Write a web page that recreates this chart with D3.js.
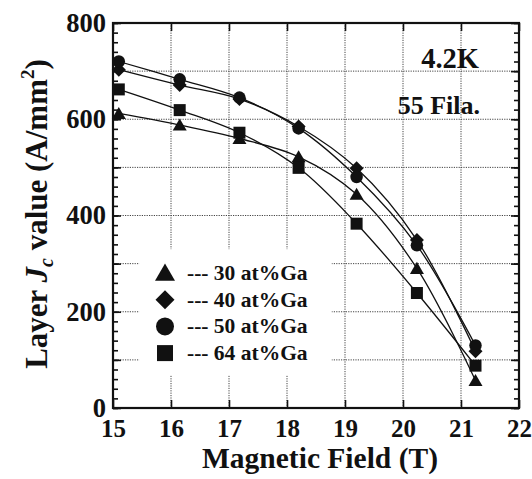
<!DOCTYPE html>
<html><head><meta charset="utf-8">
<script src="https://cdn.jsdelivr.net/npm/d3@7"></script>
<style>
html,body{margin:0;padding:0;background:#fff;}
svg{display:block;}
text{font-family:"Liberation Serif","Times New Roman",serif;font-weight:bold;fill:#111;}
</style></head>
<body><div id="chart"></div>
<script>
const fields = [15.1, 16.15, 17.18, 18.2, 19.2, 20.24, 21.25];
const ga30 = [612, 588, 560, 522, 444, 290, 57];
const ga40 = [703, 671, 642, 585, 498, 349, 118];
const ga50 = [720, 683, 645, 581, 480, 338, 130];
const ga64 = [662, 619, 572, 499, 383, 239, 88];
const seriesNames = ["--- 30 at%Ga", "--- 40 at%Ga", "--- 50 at%Ga", "--- 64 at%Ga"];
const seriesShapes = ["triangle", "diamond", "circle", "square"];
const xTicks = [15, 16, 17, 18, 19, 20, 21, 22];
const yTicks = [0, 200, 400, 600, 800];
const yGrid = [100, 200, 300, 400, 500, 600, 700];
const xGrid = [16, 17, 18, 19, 20, 21];

const W = 532, H = 479;
const m = {l:113, t:23, r:13, b:71};
const pw = W - m.l - m.r, ph = H - m.t - m.b;

const svg = d3.select("#chart").append("svg").attr("width", W).attr("height", H);
const g = svg.append("g").attr("transform", `translate(${m.l},${m.t})`);

const x = d3.scaleLinear().domain([15, 22]).range([0, pw]);
const y = d3.scaleLinear().domain([0, 800]).range([ph, 0]);

// grid
g.append("g").selectAll("line").data(xGrid).join("line")
  .attr("x1", d => x(d)).attr("x2", d => x(d)).attr("y1", 0).attr("y2", ph)
  .attr("stroke", "#444").attr("stroke-width", 1).attr("stroke-dasharray", "1.2,1.2");
g.append("g").selectAll("line").data(yGrid).join("line")
  .attr("y1", d => y(d)).attr("y2", d => y(d)).attr("x1", 0).attr("x2", pw)
  .attr("stroke", "#444").attr("stroke-width", 1).attr("stroke-dasharray", "1.2,1.2");

// legend backdrop
g.append("rect").attr("x", x(15.45)).attr("y", y(330)).attr("width", x(18.77) - x(15.45))
  .attr("height", y(68) - y(330)).attr("fill", "#fff");

// ticks via axes (inward)
const yMinor = d3.range(0, 801, 20);
const yMajor = d3.range(0, 801, 100);
function tickAxis(axisFn, scale, vals, size, tr) {
  const a = g.append("g").attr("transform", tr)
    .call(axisFn(scale).tickValues(vals).tickSize(size).tickFormat(""));
  a.select(".domain").remove();
  a.selectAll("line").attr("stroke", "#111").attr("stroke-width", 1.6);
}
tickAxis(d3.axisLeft, y, yMinor, -5, "translate(0,0)");
tickAxis(d3.axisLeft, y, yMajor, -8, "translate(0,0)");
tickAxis(d3.axisRight, y, yMinor, -5, `translate(${pw},0)`);
tickAxis(d3.axisRight, y, yMajor, -8, `translate(${pw},0)`);
tickAxis(d3.axisBottom, x, xTicks, -8, `translate(0,${ph})`);
tickAxis(d3.axisTop, x, xTicks, -8, "translate(0,0)");

// frame
g.append("rect").attr("width", pw).attr("height", ph).attr("fill", "none")
  .attr("stroke", "#111").attr("stroke-width", 2.2);

// tick labels
const xl = g.append("g").attr("transform", `translate(0,${ph})`)
  .call(d3.axisBottom(x).tickValues(xTicks).tickSize(0).tickPadding(29).tickFormat(d3.format("d")));
xl.select(".domain").remove();
xl.selectAll("text").attr("font-size", 25).attr("dy", 0).attr("fill", "#111")
  .attr("font-family", "Liberation Serif").attr("font-weight", "bold");

const yl = g.append("g")
  .call(d3.axisLeft(y).tickValues(yTicks).tickSize(0).tickPadding(7).tickFormat(d3.format("d")));
yl.select(".domain").remove();
yl.selectAll("text").attr("font-size", 26.5).attr("dy", "0.32em").attr("fill", "#111")
  .attr("font-family", "Liberation Serif").attr("font-weight", "bold");

// series
const allSeries = [ga30, ga40, ga50, ga64];
const line = d3.line().x((d, i) => x(fields[i])).y(d => y(d)).curve(d3.curveCatmullRom.alpha(0.5));
allSeries.forEach(s => {
  g.append("path").datum(s).attr("d", line).attr("fill", "none")
    .attr("stroke", "#111").attr("stroke-width", 1.3);
});

const symType = {triangle: d3.symbolTriangle, circle: d3.symbolCircle, square: d3.symbolSquare};
function symPath(shape, px) {
  if (shape === "diamond") {
    const r = px / 2;
    return `M0,${-r}L${r},0L0,${r}L${-r},0Z`;
  }
  const area = {triangle: px*px*0.433, circle: Math.PI*px*px/4, square: px*px}[shape];
  return d3.symbol().type(symType[shape]).size(area)();
}
const dataSize = {triangle: 14, diamond: 14, circle: 12.5, square: 12};
allSeries.forEach((s, k) => {
  const sh = seriesShapes[k];
  g.append("g").selectAll("path").data(s).join("path")
    .attr("d", symPath(sh, dataSize[sh]))
    .attr("transform", (d, i) => `translate(${x(fields[i])},${y(d) + (sh === "triangle" ? 1.5 : 0)})`)
    .attr("fill", "#111");
});

// legend
const legSize = {triangle: 20, diamond: 19, circle: 18, square: 16};
const leg = g.append("g");
seriesNames.forEach((name, k) => {
  const sh = seriesShapes[k];
  const cy = 273 - m.t + k * 26.7;
  const cx = 165 - m.l;
  leg.append("path").attr("d", symPath(sh, legSize[sh]))
    .attr("transform", `translate(${cx},${cy + (sh === "triangle" ? 2 : 0)})`).attr("fill", "#111");
  leg.append("text").attr("x", 187 - m.l).attr("y", cy + 7).attr("font-size", 21.5).text(name);
});

// annotations
g.append("text").attr("x", 479 - m.l).attr("y", 68 - m.t).attr("text-anchor", "end")
  .attr("font-size", 28.5).text("4.2K");
g.append("text").attr("x", 480 - m.l).attr("y", 114 - m.t).attr("text-anchor", "end")
  .attr("font-size", 26).text("55 Fila.");

// axis titles
svg.append("text").attr("x", m.l + pw / 2 + 4).attr("y", 468).attr("text-anchor", "middle")
  .attr("font-size", 29.5).text("Magnetic Field (T)");

const yt = svg.append("text").attr("transform", `translate(47,${214}) rotate(-90)`)
  .attr("text-anchor", "middle").attr("font-size", 31);
yt.append("tspan").text("Layer ");
yt.append("tspan").attr("font-style", "italic").text("J");
yt.append("tspan").attr("font-size", 20).attr("dy", 6).attr("font-style", "italic").text("c");
yt.append("tspan").attr("dy", -6).text(" value (A/mm");
yt.append("tspan").attr("font-size", 19).attr("dy", -13).text("2");
yt.append("tspan").attr("dy", 13).text(")");
</script></body></html>
